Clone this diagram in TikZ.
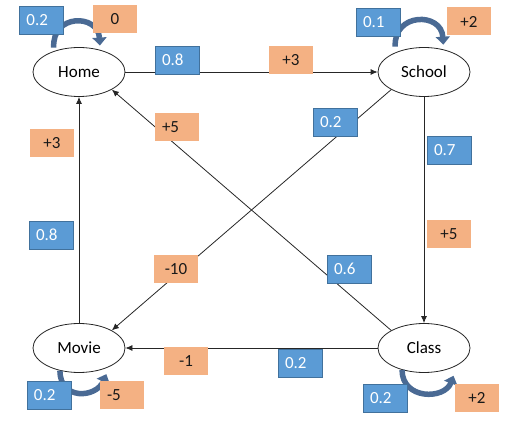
\documentclass[tikz,border=0pt]{standalone}
\usepackage{fontspec}
\setmainfont{Carlito}
\usetikzlibrary{arrows.meta,shapes.geometric}
\definecolor{pblue}{RGB}{91,155,213}
\definecolor{pblueline}{RGB}{65,113,156}
\definecolor{rorange}{RGB}{244,177,131}
\definecolor{loopblue}{RGB}{74,106,148}
\tikzset{
state/.style={ellipse,draw=black!85,line width=0.8pt,minimum width=92pt,minimum height=49pt,inner sep=0pt},
pbox/.style={draw=pblueline,fill=pblue,line width=0.8pt,text=white,minimum height=28pt,text width=30pt,inner xsep=7pt,inner ysep=0pt,align=left},
rbox/.style={fill=rorange,text=black!90,minimum height=28pt,text width=30pt,inner xsep=7pt,inner ysep=0pt,align=center},
trans/.style={draw=black!85,line width=0.8pt,-{Latex[length=7pt,width=6pt]}},
selfloop/.style={draw=loopblue,line width=5.5pt,-{Triangle[length=8pt,width=14pt]}}
}
\begin{document}
\begin{tikzpicture}[x=1pt,y=-1pt,font=\fontsize{17}{20}\selectfont]
\useasboundingbox (0,0) rectangle (515,425);
\node[state] (home) at (79,72) {Home};
\node[state] (school) at (424,72) {School};
\node[state] (movie) at (79,348) {Movie};
\node[state] (class) at (424,348) {Class};
\draw[trans] (home) -- (school);
\draw[trans] (school) -- (class);
\draw[trans] (class) -- (movie);
\draw[trans] (movie) -- (home);
\draw[trans] (school.south west) -- (movie.north east);
\draw[trans] (class.north west) -- (home.south east);
\draw[selfloop] ([xshift=-1.5pt,yshift=3pt]home.138) .. controls +(-2,-34) and +(-2,-32) .. ([xshift=3pt,yshift=3.5pt]home.52);
\draw[selfloop] ([xshift=-5pt,yshift=4pt]school.138) .. controls +(-2,-34) and +(-2,-33) .. ([xshift=3pt,yshift=4pt]school.55);
\draw[selfloop] (movie.230) .. controls +(0,30) and +(-10,24) .. ([xshift=6pt,yshift=-4pt]movie.314);
\draw[selfloop] (class.225) .. controls +(0,30) and +(-9,24) .. ([xshift=7pt,yshift=-6pt]class.316);
\node[pbox] (hh-p) at (41.5,20) {0.2};
\node[rbox] (hh-r) at (115,19.5) {0};
\node[pbox] (hs-p) at (177,60) {0.8};
\node[rbox] (hs-r) at (291,60) {+3};
\node[pbox] (ss-p) at (378,22) {0.1};
\node[rbox] (ss-r) at (469,21.5) {+2};
\node[rbox] (mh-r) at (52,143.5) {+3};
\node[pbox] (mh-p) at (51,235) {0.8};
\node[pbox] (sc-p) at (449,150.5) {0.7};
\node[rbox] (sc-r) at (449,234.5) {+5};
\node[rbox,align=left] (ch-r) at (177,127) {+5};
\node[pbox] (ch-p) at (349,269) {0.6};
\node[pbox] (sm-p) at (335,122) {0.2};
\node[rbox] (sm-r) at (176,269) {-10};
\node[rbox] (cm-r) at (186,361.5) {-1};
\node[pbox] (cm-p) at (300,363) {0.2};
\node[pbox] (mm-p) at (49,395) {0.2};
\node[rbox,align=left] (mm-r) at (122,395) {-5};
\node[pbox] (cc-p) at (385,398) {0.2};
\node[rbox] (cc-r) at (477,398) {+2};
\end{tikzpicture}
\end{document}
